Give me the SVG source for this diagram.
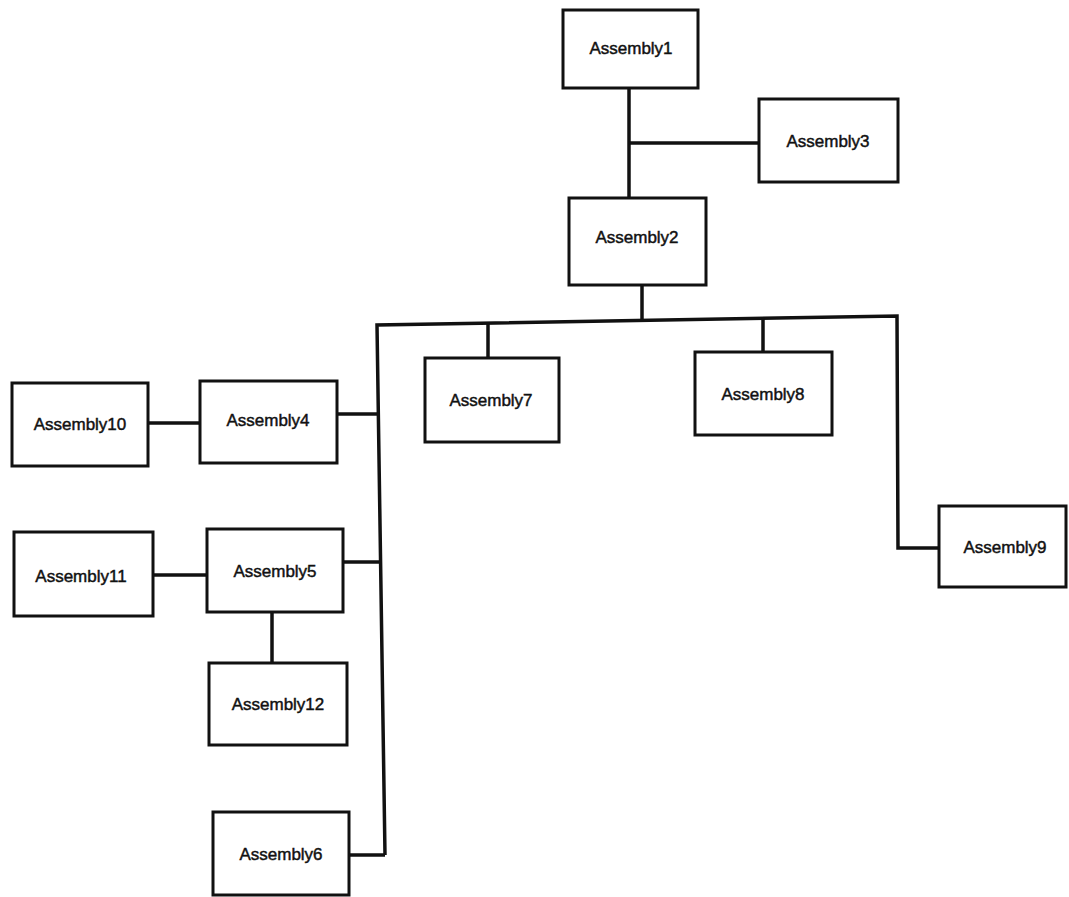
<svg xmlns="http://www.w3.org/2000/svg" width="1069" height="897" viewBox="0 0 1069 897">
  <style>
    .box { fill: #ffffff; stroke: #111111; stroke-width: 3; }
    .lbl { font-family: "Liberation Sans", Arial, sans-serif; font-size: 17px; fill: #111111; stroke: #111111; stroke-width: 0.45; text-anchor: middle; }
    .wire { fill: none; stroke: #111111; stroke-width: 3.5; stroke-linejoin: miter; }
  </style>
  <rect width="1069" height="897" fill="#ffffff"/>

  <!-- tree connectors -->
  <g id="connectors">
    <line class="wire" x1="629" y1="88" x2="629" y2="198"/>
    <line class="wire" x1="629" y1="143" x2="759" y2="143"/>
    <line class="wire" x1="642" y1="285" x2="642" y2="321"/>
    <polyline class="wire" points="385,855 377,325 897,316 898,548 939,548"/>
    <line class="wire" x1="488" y1="324" x2="488" y2="358"/>
    <line class="wire" x1="763" y1="318" x2="763" y2="352"/>
    <line class="wire" x1="337" y1="414" x2="378" y2="414"/>
    <line class="wire" x1="148" y1="423" x2="200" y2="423"/>
    <line class="wire" x1="343" y1="562" x2="380" y2="562"/>
    <line class="wire" x1="153" y1="575" x2="207" y2="575"/>
    <line class="wire" x1="272" y1="612" x2="272" y2="663"/>
    <line class="wire" x1="349" y1="855" x2="385" y2="855"/>
  </g>

  <g id="assembly1"><rect class="box" x="563" y="10" width="135" height="78"/><text class="lbl" x="631" y="54">Assembly1</text></g>
  <g id="assembly2"><rect class="box" x="569" y="198" width="137" height="87"/><text class="lbl" x="637" y="243">Assembly2</text></g>
  <g id="assembly3"><rect class="box" x="759" y="99" width="139" height="83"/><text class="lbl" x="828" y="147">Assembly3</text></g>
  <g id="assembly4"><rect class="box" x="200" y="381" width="137" height="82"/><text class="lbl" x="268" y="426">Assembly4</text></g>
  <g id="assembly5"><rect class="box" x="207" y="529" width="136" height="83"/><text class="lbl" x="275" y="577">Assembly5</text></g>
  <g id="assembly6"><rect class="box" x="213" y="812" width="136" height="83"/><text class="lbl" x="281" y="860">Assembly6</text></g>
  <g id="assembly7"><rect class="box" x="425" y="358" width="134" height="84"/><text class="lbl" x="491" y="406">Assembly7</text></g>
  <g id="assembly8"><rect class="box" x="695" y="352" width="137" height="83"/><text class="lbl" x="763" y="400">Assembly8</text></g>
  <g id="assembly9"><rect class="box" x="939" y="506" width="127" height="81"/><text class="lbl" x="1005" y="553">Assembly9</text></g>
  <g id="assembly10"><rect class="box" x="12" y="383" width="136" height="83"/><text class="lbl" x="80" y="430">Assembly10</text></g>
  <g id="assembly11"><rect class="box" x="14" y="532" width="139" height="84"/><text class="lbl" x="81" y="582">Assembly11</text></g>
  <g id="assembly12"><rect class="box" x="209" y="663" width="138" height="82"/><text class="lbl" x="278" y="710">Assembly12</text></g>
</svg>
